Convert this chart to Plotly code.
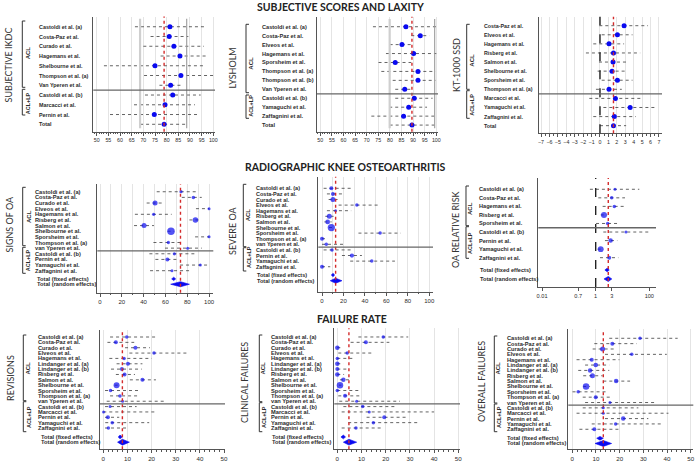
import plotly.graph_objects as go

W, H = 700, 467
BLUE = "#0a0af0"
RED = "#d42a2a"
INK = "#2b2b2b"
AXIS = "#555555"
LABEL_FONT = "Liberation Sans"
TITLE_FONT = "Lato"

# ---------------- SUBJECTIVE SCORES AND LAXITY ----------------
ikdc_studies = ["Castoldi et al. (a)", "Costa-Paz et al.", "Curado et al.", "Hagemans et al.",
                "Shelbourne et al.", "Thompson et al. (a)", "Van Yperen et al.",
                "Castoldi et al. (b)", "Marcacci et al.", "Pernin et al.", "Total"]
ikdc_mean = [81.4, 81.1, 83.1, 85.7, 75.0, 86.1, 81.7, 82.6, 79.3, 74.7, 78.9]
ikdc_lo = [66.4, 73.1, 70.0, 77.4, 53.1, 70.3, 76.9, 70.7, 66.0, 55.7, 68.6]
ikdc_hi = [96.4, 89.3, 96.0, 97.1, 96.7, 100.0, 86.4, 94.6, 92.1, 93.1, 88.6]
ikdc_n_acl = 7

lysholm_studies = ["Castoldi et al. (a)", "Costa-Paz et al.", "Elveos et al.", "Hagemans et al.",
                   "Sporsheim et al.", "Thompson et al. (a)", "Thompson et al. (b)",
                   "Van Yperen et al.", "Castoldi et al. (b)", "Yamaguchi et al.",
                   "Zaffagnini et al.", "Total"]
lysholm_mean = [86.9, 93.1, 85.2, 90.2, 82.3, 92.1, 92.1, 86.4, 90.5, 88.1, 85.9, 89.5]
lysholm_lo = [72.7, 89.2, 79.9, 78.3, 75.1, 76.3, 81.2, 82.3, 82.3, 79.7, 72.0, 79.9]
lysholm_hi = [100.0, 97.0, 89.2, 100.0, 89.2, 99.6, 99.6, 89.9, 98.4, 96.0, 99.9, 99.3]
lysholm_n_acl = 8

kt_studies = ["Costa-Paz et al.", "Elveos et al.", "Hagemans et al.", "Risberg et al.",
              "Salmon et al.", "Shelbourne et al.", "Sporsheim et al.", "Thompson et al. (a)",
              "Marcacci et al.", "Yamaguchi et al.", "Zaffagnini et al.", "Total"]
kt_mean = [2.86, 2.07, 1.07, 1.60, 1.55, 1.43, 2.07, 1.07, 1.83, 3.58, 1.70, 1.60]
kt_lo = [-0.08, 0.20, -0.80, -1.67, -0.12, -0.28, 0.20, -0.48, -1.27, 0.40, -0.80, 0.0]
kt_hi = [5.70, 3.86, 2.86, 4.77, 3.26, 3.10, 3.86, 2.59, 4.90, 6.76, 4.26, 3.10]
kt_n_acl = 8

# ---------------- RADIOGRAPHIC KNEE OSTEOARTHRITIS ----------------
oa_studies = ["Castoldi et al. (a)", "Costa-Paz et al.", "Curado et al.", "Elveos et al.",
              "Hagemans et al.", "Risberg et al.", "Salmon et al.", "Shelbourne et al.",
              "Sporsheim et al.", "Thompson et al. (a)", "van Yperen et al.",
              "Castoldi et al. (b)", "Pernin et al.", "Yamaguchi et al.", "Zaffagnini et al."]
oa_n_acl = 11

signs_mean = [74.3, 85.6, 50.5, 100.0, 49.2, 87.5, 40.4, 65.1, 100.0, 62.7, 80.4, 68.2, 61.8, 92.0, 66.0]
signs_lo = [52.0, 75.0, 42.8, 88.0, 32.0, 82.0, 31.2, 62.0, 87.2, 49.0, 59.6, 45.3, 50.8, 73.4, 45.9]
signs_hi = [90.2, 93.3, 58.1, 100.0, 65.7, 91.1, 49.5, 68.0, 100.0, 73.4, 93.3, 86.5, 71.9, 99.4, 83.2]
signs_weight = [3, 4, 10, 2, 3, 12, 10, 20, 2, 3, 2, 3, 6, 2, 2]
signs_fixed = (67.6, 65.7, 69.4)
signs_random = (73.8, 64.8, 82.0)

severe_mean = [8.7, 10.2, 10.2, 32.5, 12.7, 6.8, 5.3, 8.7, 54.2, 0.0, 4.0, 9.3, 27.9, 46.4, 0.0]
severe_lo = [1.5, 4.6, 6.2, 15.5, 4.6, 3.1, 2.2, 6.5, 34.0, 0.0, 0.0, 1.5, 18.6, 26.3, 0.0]
severe_hi = [28.8, 20.0, 14.5, 52.6, 27.2, 10.8, 9.0, 11.0, 73.4, 5.6, 20.0, 28.8, 37.2, 68.0, 7.7]
severe_weight = [6, 6, 10, 4, 2, 10, 9, 19, 4, 6, 4, 4, 7, 4, 6]
severe_fixed = (10.2, 8.7, 11.8)
severe_random = (12.7, 7.7, 18.6)

rr_studies = ["Castoldi et al. (a)", "Costa-Paz et al.", "Hagemans et al.", "Risberg et al.",
              "Sporsheim et al.", "Castoldi et al. (b)", "Pernin et al.", "Yamaguchi et al.",
              "Zaffagnini et al."]
rr_mean = [5.25, 3.96, 4.95, 2.04, 2.80, 13.5, 3.60, 1.54, 3.20]
rr_lo = [0.61, 1.25, 1.82, 1.54, 1.03, 1.92, 2.22, 1.19, 1.45]
rr_hi = [42.4, 12.4, 13.1, 2.70, 6.40, 97.0, 6.40, 2.04, 7.00]
rr_weight = [2, 4, 4, 14, 4, 2, 8, 13, 6]
rr_fixed = (2.70, 2.20, 3.20)
rr_random = (2.95, 2.04, 4.00)
rr_n_acl = 5
rr_ticks = [0.01, 0.224, 1, 3.96, 100]
rr_ticktext = ["0.01", "0.7", "1", "3", "100"]

# ---------------- FAILURE RATE ----------------
fail_studies = ["Castoldi et al. (a)", "Costa-Paz et al.", "Curado et al.", "Elveos et al.",
                "Hagemans et al.", "Lindanger et al. (a)", "Lindanger et al. (b)", "Risberg et al.",
                "Salmon et al.", "Shelbourne et al.", "Sporsheim et al.", "Thompson et al. (a)",
                "van Yperen et al.", "Castoldi et al. (b)", "Marcacci et al.", "Pernin et al.",
                "Yamaguchi et al.", "Zaffagnini et al."]
fail_n_acl = 13

rev_mean = [9.7, 5.2, 13.3, 21.0, 8.6, 10.2, 7.7, 8.8, 16.2, 5.5, 3.0, 6.9, 8.0, 2.8, 0.1, 1.9, 3.7, 2.1]
rev_lo = [2.8, 1.7, 9.0, 10.8, 2.5, 5.5, 3.2, 5.2, 11.0, 4.7, 0.7, 2.8, 1.4, 0.7, 0.0, 0.7, 0.8, 0.7]
rev_hi = [22.5, 12.8, 19.3, 35.0, 20.0, 16.2, 15.9, 13.1, 21.8, 6.5, 14.9, 14.2, 26.0, 13.8, 21.7, 6.6, 19.0, 10.4]
rev_weight = [4, 6, 6, 4, 4, 6, 6, 6, 6, 14, 4, 4, 2, 2, 2, 6, 4, 4]
rev_fixed = (6.9, 6.2, 7.9)
rev_random = (7.9, 5.9, 10.8)

clin_mean = [19.0, 11.8, 0.0, 4.1, 0.0, 0.0, 0.0, 0.0, 2.5, 1.1, 0.0, 3.2, 8.0, 10.5, 13.2, 19.4, 14.9, 7.7]
clin_lo = [8.7, 5.5, 0.0, 0.4, 0.0, 0.0, 0.0, 0.0, 1.1, 0.7, 0.0, 0.4, 0.8, 2.5, 1.8, 12.1, 4.5, 1.8]
clin_hi = [29.3, 21.5, 1.8, 14.2, 6.9, 2.5, 4.5, 2.8, 5.2, 1.7, 9.6, 9.4, 25.9, 24.5, 40.0, 29.3, 33.5, 18.3]
clin_weight = [4, 6, 8, 4, 4, 8, 6, 8, 8, 16, 4, 6, 2, 4, 2, 6, 4, 4]
clin_fixed = (2.5, 1.5, 3.4)
clin_random = (4.8, 2.5, 8.0)

over_mean = [28.6, 16.9, 12.8, 25.1, 8.2, 9.9, 7.5, 8.5, 18.5, 5.8, 2.5, 9.9, 15.9, 13.1, 13.1, 21.5, 18.3, 9.3]
over_lo = [15.6, 9.3, 8.6, 13.8, 1.8, 5.4, 2.5, 4.6, 13.1, 4.6, 0.1, 4.4, 5.4, 4.4, 1.8, 13.8, 8.2, 3.0]
over_hi = [44.5, 27.2, 18.0, 39.9, 19.9, 15.6, 15.6, 12.8, 24.4, 7.5, 14.5, 16.6, 35.6, 27.9, 40.6, 32.1, 38.2, 20.6]
over_weight = [4, 6, 10, 4, 6, 8, 8, 10, 8, 16, 4, 6, 2, 2, 2, 8, 4, 6]
over_fixed = (11.7, 10.3, 13.1)
over_random = (13.1, 9.6, 16.6)


def px(x):
    return x / W


def py(y):
    return 1 - y / H


fig = go.Figure()
shapes, annotations, axes = [], [], {}


def forest(k, title, studies, mean, lo, hi, n_acl, cfg,
           weight=None, fixed=None, random=None):
    sfx = "" if k == 1 else str(k)
    xa, ya = "x" + sfx, "y" + sfx
    rows = list(range(len(studies)))

    # confidence intervals
    cx, cy = [], []
    for r, a, b in zip(rows, lo, hi):
        cx += [a, b, None]
        cy += [r, r, None]
    fig.add_trace(go.Scatter(x=cx, y=cy, mode="lines", xaxis=xa, yaxis=ya, hoverinfo="skip",
                             line=dict(color="#3c3c3c", width=0.8, dash="dot")))

    size = 5 if weight is None else [2.5 + w / 4 for w in weight]
    fig.add_trace(go.Scatter(x=mean, y=rows, mode="markers", xaxis=xa, yaxis=ya,
                             marker=dict(color=BLUE, size=size, line=dict(width=0))))

    lab_rows = list(rows)
    lab_text = list(studies)
    lab_x = [cfg["lab_x"]] * len(studies)
    if fixed is not None:
        n = len(studies)
        for est, off, half, name in ((fixed, cfg["f_off"], cfg["fh"], "Total (fixed effects)"),
                                     (random, cfg["r_off"], cfg["rh"], "Total (random effects)")):
            c, l, h = est
            r = n - 1 + off
            fig.add_trace(go.Scatter(x=[l, c, h, c, l], y=[r, r - half, r, r + half, r],
                                     fill="toself", fillcolor=BLUE, mode="lines",
                                     line=dict(color=BLUE, width=0.6),
                                     xaxis=xa, yaxis=ya, hoverinfo="skip"))
            lab_rows.append(r)
            lab_text.append(name)
            lab_x.append(cfg["tot_x"])
        ref = random[0]
    else:
        ref = mean[-1]
        # grey lines at the pooled interval
        if cfg.get("ci_lines"):
            for v, col, wd in ((lo[-1], "#cfcfcf", 2.2), (hi[-1], "#9a9a9a", 1.1)):
                shapes.append(dict(type="line", xref=xa, yref=ya + " domain", x0=v, x1=v,
                                   y0=0.03, y1=0.98, line=dict(color=col, width=wd)))

    if cfg.get("null") is not None:
        v = cfg["null"]
        shapes.append(dict(type="line", xref=xa, yref=ya + " domain", x0=v, x1=v, y0=0, y1=1,
                           line=dict(color="#222222", width=1.4, dash="dash")))

    shapes.append(dict(type="line", xref=xa, yref=ya + " domain", x0=ref, x1=ref, y0=0, y1=1,
                       line=dict(color=RED, width=1.4, dash="dot")))
    shapes.append(dict(type="line", xref=xa + " domain", yref=ya, x0=0, x1=1,
                       y0=n_acl - 0.5, y1=n_acl - 0.5, line=dict(color="#666666", width=1.3)))

    for r, t, x in zip(lab_rows, lab_text, lab_x):
        annotations.append(dict(text="<b>%s</b>" % t, x=px(x), xref="paper", y=r, yref=ya,
                                xanchor="left", yanchor="middle", showarrow=False,
                                font=dict(family=LABEL_FONT, size=cfg["lab_fs"], color=INK)))

    # group brackets
    bx, a0, a1, l0, l1, tx, ay, ly = cfg["br"]
    for y0, y1 in ((a0, a1), (l0, l1)):
        shapes.append(dict(type="path", xref="paper", yref="paper",
                           path="M %f %f L %f %f L %f %f L %f %f" % (
                               px(bx + 3), py(y0), px(bx), py(y0), px(bx), py(y1), px(bx + 3), py(y1)),
                           line=dict(color="#333333", width=1)))
    for t, yy, fs in (("ACL", ay, 6), ("ACL+LP", ly, 5.5)):
        annotations.append(dict(text="<b>%s</b>" % t, x=px(tx), y=py(yy), xref="paper", yref="paper",
                                textangle=-90, showarrow=False, xanchor="center", yanchor="middle",
                                font=dict(family=LABEL_FONT, size=fs, color=INK)))
    tx_, ty_ = cfg["title_pos"]
    annotations.append(dict(text=title, x=px(tx_), y=py(ty_), xref="paper", yref="paper",
                            textangle=-90, showarrow=False, xanchor="center", yanchor="middle",
                            font=dict(family=TITLE_FONT, size=9, color="#333333")))

    x0, x1 = cfg["dx"]
    y0, y1 = cfg["dy"]
    xax = dict(domain=[px(x0), px(x1)], range=cfg["xr"], anchor=ya, showline=True,
               linecolor=AXIS, linewidth=1.2, ticks="outside", ticklen=3, tickcolor=AXIS,
               tickfont=dict(family=LABEL_FONT, size=cfg["tick_fs"], color=INK),
               showgrid=True, gridcolor="#e4e4e4", gridwidth=1, zeroline=False)
    xax.update(cfg["xtick"])
    axes["xaxis" + sfx] = xax
    axes["yaxis" + sfx] = dict(domain=[py(y1), py(y0)], range=cfg["yr"], anchor=xa,
                               showline=True, linecolor=AXIS, linewidth=1.2,
                               showticklabels=False, ticks="", showgrid=False, zeroline=False)


minor_tick = dict(ticklen=1.5, tickcolor=AXIS)

forest(1, "SUBJECTIVE IKDC", ikdc_studies, ikdc_mean, ikdc_lo, ikdc_hi, ikdc_n_acl, dict(
    dx=(93.3, 215), dy=(16.5, 131.7), xr=[48.54, 100.73], yr=[10.76, -1.05],
    xtick=dict(tick0=50, dtick=5, minor=dict(dtick=1, **minor_tick)),
    lab_x=36.7, lab_fs=5.4, tick_fs=5.3, ci_lines=True,
    br=(22.3, 21, 87.3, 89.3, 115, 28.3, 53, 103), title_pos=(8.5, 65)))

forest(2, "LYSHOLM", lysholm_studies, lysholm_mean, lysholm_lo, lysholm_hi, lysholm_n_acl, dict(
    dx=(317, 438), dy=(16.7, 131.7), xr=[48.58, 100.73], yr=[11.74, -1.12],
    xtick=dict(tick0=50, dtick=5, minor=dict(dtick=1, **minor_tick)),
    lab_x=260, lab_fs=5.6, tick_fs=5.3, ci_lines=True,
    br=(246, 24.3, 92.7, 95, 118.3, 250.7, 63, 106), title_pos=(231.5, 68)))

forest(3, "KT-1000 SSD", kt_studies, kt_mean, kt_lo, kt_hi, kt_n_acl, dict(
    dx=(539, 662), dy=(16.7, 133.3), xr=[-7.24, 7.36], yr=[11.84, -0.99],
    xtick=dict(tick0=0, dtick=1, minor=dict(dtick=0.5, **minor_tick)),
    lab_x=481.7, lab_fs=5.3, tick_fs=5.3, null=0,
    br=(466.7, 24.3, 89.3, 90.7, 118.3, 471.7, 60, 105), title_pos=(457, 65)))

forest(4, "SIGNS OF OA", oa_studies, signs_mean, signs_lo, signs_hi, oa_n_acl, dict(
    dx=(97.3, 213.3), dy=(184.3, 292.7), xr=[-2.48, 103.9], yr=[17.9, -1.32],
    xtick=dict(tick0=0, dtick=20, minor=dict(dtick=10, showgrid=True, gridcolor="#e4e4e4", **minor_tick)),
    lab_x=33.3, tot_x=35, lab_fs=5.7, tick_fs=6, f_off=1.45, r_off=2.4, fh=0.3, rh=0.45,
    br=(22.7, 187.3, 245.7, 247.3, 273.3, 28.3, 216.7, 260), title_pos=(8.5, 225)),
    weight=signs_weight, fixed=signs_fixed, random=signs_random)

forest(5, "SEVERE OA", oa_studies, severe_mean, severe_lo, severe_hi, oa_n_acl, dict(
    dx=(318.3, 433), dy=(176.7, 291.7), xr=[-3.45, 103.5], yr=[18.46, -2.07],
    xtick=dict(tick0=0, dtick=20, minor=dict(dtick=10, showgrid=True, gridcolor="#e4e4e4", **minor_tick)),
    lab_x=254, tot_x=255, lab_fs=5.5, tick_fs=6, f_off=1.48, r_off=2.5, fh=0.3, rh=0.45,
    br=(243.3, 184.3, 246.7, 247.7, 271, 248.3, 215, 256.7), title_pos=(233, 231)),
    weight=severe_weight, fixed=severe_fixed, random=severe_random)

forest(6, "OA RELATIVE RISK", rr_studies, rr_mean, rr_lo, rr_hi, rr_n_acl, dict(
    dx=(538.3, 656), dy=(178, 287), xr=[-2.14, 2.25], yr=[11.43, -1.32],
    xtick=dict(type="log", tickvals=rr_ticks, ticktext=rr_ticktext, showgrid=False),
    lab_x=477.3, tot_x=478.3, lab_fs=5.6, tick_fs=5.6, null=1,
    f_off=1.44, r_off=2.49, fh=0.22, rh=0.3,
    br=(466, 186, 225.7, 226.7, 258.3, 470.7, 208.3, 243.3), title_pos=(456, 230)),
    weight=rr_weight, fixed=rr_fixed, random=rr_random)

for k, title, mean, lo, hi, wt, fx, rd, dx, dy, xr, yr, lx, tx, br, tp in (
        (7, "REVISIONS", rev_mean, rev_lo, rev_hi, rev_weight, rev_fixed, rev_random,
         (100, 225), (330, 449.3), [-1.37, 50.4], [20.98, -1.31], 36, 39.3,
         (23.3, 335, 400.7, 401.7, 431.7, 28.3, 368.3, 416.7), (10, 378)),
        (8, "CLINICAL FAILURES", clin_mean, clin_lo, clin_hi, clin_weight, clin_fixed, clin_random,
         (334.3, 460), (328.3, 449.3), [-1.24, 50.7], [20.98, -1.62], 269.3, 270,
         (259.3, 335, 401.7, 402.7, 431.7, 263.3, 368.3, 416.7), (244, 383)),
        (9, "OVERALL FAILURES", over_mean, over_lo, over_hi, over_weight, over_fixed, over_random,
         (568.3, 693.3), (329.3, 449.3), [-1.69, 51.1], [20.74, -1.68], 505, 505,
         (494.3, 336, 403, 404, 431.7, 498.3, 368.3, 416.7), (481, 382))):
    forest(k, title, fail_studies, mean, lo, hi, fail_n_acl, dict(
        dx=dx, dy=dy, xr=xr, yr=yr,
        xtick=dict(tick0=0, dtick=10, minor=dict(dtick=2, **minor_tick)),
        lab_x=lx, tot_x=tx, lab_fs=5.7, tick_fs=6.2, f_off=1.68, r_off=2.65, fh=0.35, rh=0.55,
        br=br, title_pos=tp),
        weight=wt, fixed=fx, random=rd)

for text, x, y in (("SUBJECTIVE SCORES AND LAXITY", 340.5, 7),
                   ("RADIOGRAPHIC KNEE OSTEOARTHRITIS", 345, 167),
                   ("FAILURE RATE", 351.5, 319)):
    annotations.append(dict(text="<b>%s</b>" % text, x=px(x), y=py(y), xref="paper", yref="paper",
                            showarrow=False, xanchor="center", yanchor="middle",
                            font=dict(family=TITLE_FONT, size=10.5, color="#222222")))

fig.update_layout(width=W, height=H, margin=dict(l=0, r=0, t=0, b=0, autoexpand=False),
                  paper_bgcolor="white", plot_bgcolor="white", showlegend=False,
                  hovermode=False, shapes=shapes, annotations=annotations, **axes)

# the page body has a default 8px margin; drop it so the figure sits at the window origin
fig.write_html("out.html", config={"displayModeBar": False},
               post_script="document.body.style.margin='0px';")
